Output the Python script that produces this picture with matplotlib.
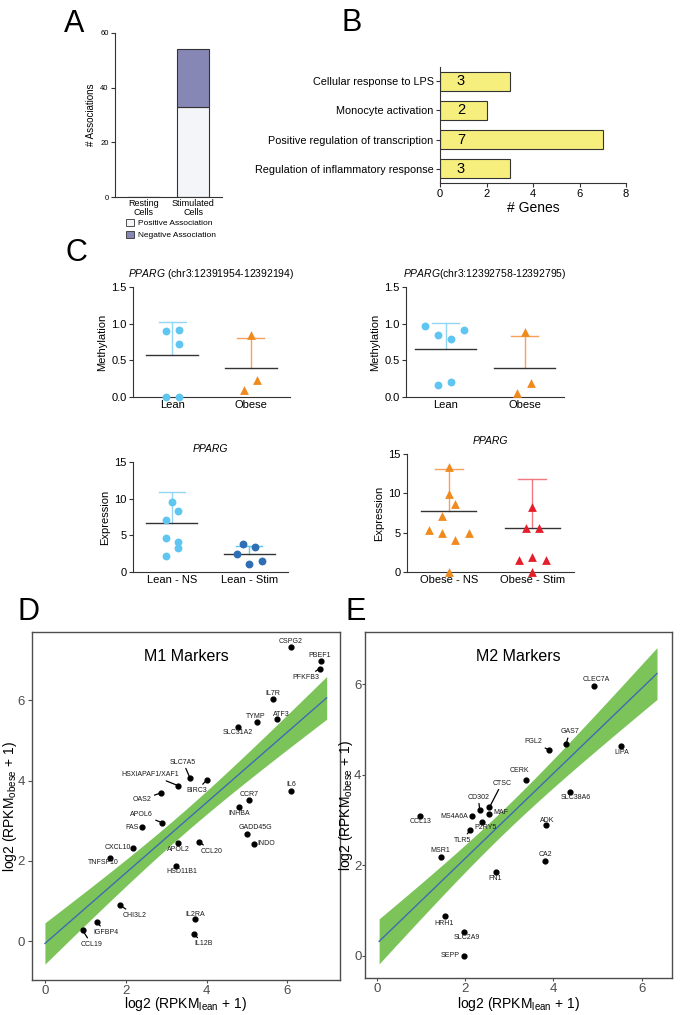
import numpy as np
import matplotlib
matplotlib.use('Agg')
import matplotlib.pyplot as plt
from matplotlib.patches import Patch

plt.rcParams['font.family'] = ['Liberation Sans', 'DejaVu Sans']
plt.rcParams['mathtext.fontset'] = 'custom'
plt.rcParams['mathtext.rm'] = 'Liberation Sans'
plt.rcParams['mathtext.it'] = 'Liberation Sans:italic'

# ---- panel A data
a_groups = ['Resting\nCells', 'Stimulated\nCells']
a_positive = [0, 33]
a_negative = [0, 21]

# ---- panel B data
b_terms = ['Cellular response to LPS', 'Monocyte activation',
           'Positive regulation of transcription', 'Regulation of inflammatory response']
b_genes = [3, 2, 7, 3]

# ---- panel C data (values, group mean, sd shown as upper bar)
c1_groups = ['Lean', 'Obese']
c1_vals = [[0.90, 0.92, 0.72, 0.0, 0.0], [0.85, 0.23, 0.10]]
c1_mean = [0.57, 0.40]
c1_sd = [0.45, 0.40]

c2_groups = ['Lean', 'Obese']
c2_vals = [[0.97, 0.84, 0.79, 0.91, 0.17, 0.21], [0.88, 0.19, 0.05]]
c2_mean = [0.65, 0.39]
c2_sd = [0.36, 0.44]

c3_groups = ['Lean - NS', 'Lean - Stim']
c3_vals = [[9.55, 8.27, 7.05, 4.64, 4.09, 3.27, 2.18], [3.77, 3.41, 2.41, 1.05, 1.45]]
c3_mean = [6.75, 2.45]
c3_sd = [4.15, 1.10]

c4_groups = ['Obese - NS', 'Obese - Stim']
c4_vals = [[13.4, 9.9, 8.65, 7.16, 5.33, 4.9, 4.13, 4.9, 0.0],
           [8.3, 5.54, 5.54, 1.58, 1.92, 1.58, 0.0]]
c4_mean = [7.76, 5.54]
c4_sd = [5.28, 6.22]

# ---- panel D data (M1 markers)
d_genes = ['CSPG2', 'PBEF1', 'PFKFB3', 'IL7R', 'TYMP', 'ATF3', 'SLC31A2', 'SLC7A5',
           'HSXIAPAF1/XAF1', 'BIRC3', 'OAS2', 'IL6', 'CCR7', 'INHBA', 'APOL6', 'FAS',
           'GADD45G', 'INDO', 'APOL2', 'CCL20', 'CXCL10', 'TNFSF10', 'HSD11B1', 'CHI3L2',
           'IL2RA', 'IL12B', 'IGFBP4', 'CCL19']
d_lean = [6.08, 6.82, 6.80, 5.65, 5.24, 5.75, 4.77, 3.59, 3.30, 4.00, 2.87, 6.10, 5.05, 4.81,
          2.89, 2.39, 4.99, 5.17, 3.30, 3.81, 2.18, 1.61, 3.24, 1.85, 3.71, 3.69, 1.28, 0.93]
d_obese = [7.33, 6.97, 6.79, 6.03, 5.46, 5.53, 5.33, 4.06, 3.87, 4.01, 3.69, 3.75, 3.52, 3.34,
           2.95, 2.84, 2.67, 2.42, 2.44, 2.48, 2.33, 2.08, 1.87, 0.90, 0.54, 0.17, 0.48, 0.27]
# linear fit as drawn: intercept, slope, x-range, band half-width (min, centre, curvature)
d_fit = dict(a=-0.06, b=0.878, x0=0.0, x1=6.97, hmin=0.28, xc=3.4, k=0.0161)

# ---- panel E data (M2 markers)
e_genes = ['CLEC7A', 'GAS7', 'FGL2', 'LIPA', 'CERK', 'SLC38A6', 'CTSC', 'CD302', 'MAF',
           'MS4A6A', 'P2RY5', 'CCL13', 'TLR5', 'ADK', 'MSR1', 'CA2', 'FN1', 'HRH1',
           'SLC2A9', 'SEPP']
e_lean = [4.92, 4.29, 3.90, 5.54, 3.39, 4.37, 2.55, 2.33, 2.55, 2.16, 2.38, 0.98, 2.12, 3.84,
          1.46, 3.80, 2.69, 1.55, 1.97, 1.98]
e_obese = [5.97, 4.69, 4.55, 4.65, 3.89, 3.62, 3.28, 3.23, 3.13, 3.09, 2.97, 3.09, 2.78, 2.89,
           2.19, 2.10, 1.86, 0.87, 0.52, 0.00]
e_fit = dict(a=0.273, b=0.94, x0=0.05, x1=6.35, hmin=0.27, xc=2.9, k=0.0215)

# label placement (offset points, connector flag)
d_lab = {'CSPG2': (0, 4, 0), 'PBEF1': (-1, 4, 0), 'PFKFB3': (-10, -6.5, 1), 'IL7R': (0, 4, 0),
         'TYMP': (-1, 4, 0), 'ATF3': (3, 3.5, 0), 'SLC31A2': (0, -4, 0), 'SLC7A5': (-5, 11.5, 1),
         'HSXIAPAF1/XAF1': (-20, 8, 1), 'BIRC3': (-7, -7.5, 1), 'OAS2': (-13.5, -4.5, 1),
         'IL6': (0, 4, 0), 'CCR7': (0, 4, 0), 'INHBA': (0, -4.5, 0), 'APOL6': (-14.5, 6, 1),
         'FAS': (-7, 0, 0), 'GADD45G': (6, 4.3, 0), 'INDO': (9, 0, 0), 'APOL2': (0, -4.3, 0),
         'CCL20': (9, -7, 1), 'CXCL10': (-11, 0, 0), 'TNFSF10': (-5, -3.5, 0),
         'HSD11B1': (4, -4, 0), 'CHI3L2': (11, -7.5, 1), 'IL2RA': (0, 3.6, 0),
         'IL12B': (7, -7, 1), 'IGFBP4': (6.5, -7.5, 1), 'CCL19': (6.5, -10, 1)}
e_lab = {'CLEC7A': (2, 4.5, 0), 'GAS7': (2.6, 8.6, 1), 'FGL2': (-11, 6, 1), 'LIPA': (0.7, -4.8, 0),
         'CERK': (-5, 6.7, 0), 'SLC38A6': (4, -3.6, 0), 'CTSC': (9, 17.5, 1), 'CD302': (-1, 9, 1),
         'MAF': (8, 1.4, 0), 'MS4A6A': (-13, 0, 0), 'P2RY5': (2.4, -4.3, 0), 'CCL13': (0, -4, 0),
         'TLR5': (-6, -7.2, 1), 'ADK': (1, 3.6, 0), 'MSR1': (-1, 4.3, 0), 'CA2': (1, 4.3, 0),
         'FN1': (0, -5, 0), 'HRH1': (-1, -4.8, 0), 'SLC2A9': (2.4, -4, 0), 'SEPP': (-10.5, 0, 0)}

fig = plt.figure(figsize=(6.82, 10.15), dpi=100)


def add_ax(x0, y0, x1, y1):
    W, H = 682.0, 1015.0
    return fig.add_axes([x0 / W, 1 - y1 / H, (x1 - x0) / W, (y1 - y0) / H])


def prism_style(ax, fs):
    for s in ['top', 'right']:
        ax.spines[s].set_visible(False)
    for s in ['left', 'bottom']:
        ax.spines[s].set_color('#333333')
        ax.spines[s].set_linewidth(0.8)
    ax.tick_params(labelsize=fs, length=3, width=0.8, color='#333333', pad=1.5)


# ---------------- A
axA = add_ax(115, 33, 222, 197)
xa = np.arange(len(a_groups))
axA.bar(xa, a_positive, 0.67, color='#f4f5f9', edgecolor='#333333', lw=0.8)
axA.bar(xa, a_negative, 0.67, bottom=a_positive, color='#8787b6', edgecolor='#333333', lw=0.8)
axA.set_xlim(-0.59, 1.59)
axA.set_ylim(0, 60)
axA.set_yticks([0, 20, 40, 60])
axA.set_xticks(xa)
axA.set_xticklabels(a_groups, linespacing=1.0)
axA.set_ylabel('# Associations', fontsize=7, labelpad=3)
prism_style(axA, 5.5)
axA.tick_params(axis='x', length=0, labelsize=6.5)
fig.legend(handles=[Patch(facecolor='#f4f5f9', edgecolor='#333333', lw=0.6, label='Positive Association'),
                    Patch(facecolor='#8787b6', edgecolor='#333333', lw=0.6, label='Negative Association')],
           loc='upper left', bbox_to_anchor=(0.180, 0.788), frameon=False, fontsize=6,
           handlelength=1.0, handleheight=1.0, handletextpad=0.4, labelspacing=0.45, borderaxespad=0)

# ---------------- B
axB = add_ax(440, 67, 626, 183)
yb = np.arange(len(b_terms))
axB.barh(yb, b_genes, 0.65, color='#f6ef7e', edgecolor='#333333', lw=0.8)
for yy, g in zip(yb, b_genes):
    axB.text(0.9, yy, str(g), fontsize=10.5, ha='center', va='center')
axB.set_ylim(3.48, -0.48)
axB.set_xlim(0, 8)
axB.set_xticks([0, 2, 4, 6, 8])
axB.set_yticks(yb)
axB.set_yticklabels(b_terms)
axB.set_xlabel('# Genes', fontsize=10, labelpad=1)
prism_style(axB, 8)
axB.tick_params(axis='y', labelsize=7.8)


# ---------------- C
def dot_panel(ax, groups, vals, jit, means, sds, markers, colors, ecolors, ylim, yticks,
              ylabel, title, mean_hw=0.33, cap_hw=0.17):
    for i in range(len(groups)):
        xs = i + np.array(jit[i])
        ax.scatter(xs, vals[i], s=40 if markers[i] == '^' else 32, marker=markers[i],
                   color=colors[i], lw=0, clip_on=False, zorder=3)
        m, sd = means[i], sds[i]
        ax.plot([i - mean_hw, i + mean_hw], [m, m], color='#333333', lw=1.0, zorder=2)
        ax.plot([i, i], [m, m + sd], color=ecolors[i], lw=1.0, zorder=1)
        ax.plot([i - cap_hw, i + cap_hw], [m + sd, m + sd], color=ecolors[i], lw=1.0, zorder=1)
    ax.set_xlim(-0.5, 1.5)
    ax.set_ylim(*ylim)
    ax.set_yticks(yticks)
    ax.set_xticks(range(len(groups)))
    ax.set_xticklabels(groups)
    ax.set_ylabel(ylabel, fontsize=8, labelpad=3)
    ax.set_title(title, fontsize=7.5, pad=7)
    prism_style(ax, 8)
    ax.tick_params(axis='x', length=0, pad=2)


lb, db = '#5ec6f0', '#2f6db5'
lb_e = '#92d6f3'
orng, orng_e = '#f08a1c', '#f5a35a'
red, red_e = '#e41f2b', '#f07a80'

axC1 = add_ax(133, 287, 290, 397)
dot_panel(axC1, c1_groups, c1_vals, [[-0.08, 0.08, 0.08, -0.08, 0.08], [0, 0.08, -0.09]],
          c1_mean, c1_sd, ['o', '^'], [lb, orng], [lb_e, orng_e], (0, 1.5), [0, 0.5, 1.0, 1.5],
          'Methylation', r'$\it{PPARG}$ (chr3:12391954-12392194)')
axC1.set_yticklabels(['0.0', '0.5', '1.0', '1.5'])

axC2 = add_ax(406, 287, 564, 397)
dot_panel(axC2, c2_groups, c2_vals, [[-0.26, -0.1, 0.07, 0.24, -0.1, 0.07], [0, 0.08, -0.09]],
          c2_mean, c2_sd, ['o', '^'], [lb, orng], [lb_e, orng_e], (0, 1.5), [0, 0.5, 1.0, 1.5],
          'Methylation', r'$\it{PPARG}$(chr3:12392758-12392795)', mean_hw=0.38)
axC2.set_yticklabels(['0.0', '0.5', '1.0', '1.5'])

axC3 = add_ax(133, 462, 288, 572)
dot_panel(axC3, c3_groups, c3_vals,
          [[0, 0.08, -0.08, -0.08, 0.08, 0.08, -0.08], [-0.08, 0.08, -0.16, 0, 0.16]],
          c3_mean, c3_sd, ['o', 'o'], [lb, db], [lb_e, lb], (0, 15), [0, 5, 10, 15],
          'Expression', 'PPARG')
axC3.title.set_fontstyle('italic')

axC4 = add_ax(407, 454, 574, 572)
dot_panel(axC4, c4_groups, c4_vals,
          [[0, 0, 0.08, -0.075, -0.24, -0.075, 0.08, 0.24, 0],
           [0, -0.08, 0.08, -0.16, 0, 0.16, 0]],
          c4_mean, c4_sd, ['^', '^'], [orng, red], [orng_e, red_e], (0, 15), [0, 5, 10, 15],
          'Expression', 'PPARG')
axC4.title.set_fontstyle('italic')


# ---------------- D / E
def marker_panel(ax, genes, xv, yv, labs, fit, xlim, ylim, title, ylab_x, xlab_y, tpad):
    xs = np.linspace(fit['x0'], fit['x1'], 100)
    yf = fit['a'] + fit['b'] * xs
    hw = np.sqrt(fit['hmin'] ** 2 + fit['k'] * (xs - fit['xc']) ** 2)
    ax.fill_between(xs, yf - hw, yf + hw, color='#7cc35a', lw=0, zorder=1)
    ax.plot(xs, yf, color='#3d6db3', lw=1.0, zorder=2)
    ax.scatter(xv, yv, s=12, color='black', zorder=4)
    for g, x, y in zip(genes, xv, yv):
        dx, dy, con = labs[g]
        ap = dict(arrowstyle='-', color='black', lw=0.9, shrinkA=0, shrinkB=1.5) if con else None
        ax.annotate(g, xy=(x, y), xytext=(dx, dy), textcoords='offset points', ha='center',
                    va='center', fontsize=5, color='#1a1a1a', arrowprops=ap, zorder=5)
    ax.set_xlim(*xlim)
    ax.set_ylim(*ylim)
    ax.set_xticks([0, 2, 4, 6])
    ax.set_yticks([0, 2, 4, 6])
    for s in ax.spines.values():
        s.set_color('#4d4d4d')
        s.set_linewidth(1.0)
    ax.tick_params(labelsize=9.5, labelcolor='#4d4d4d', color='#4d4d4d', length=3, pad=2)
    ax.tick_params(axis='x', length=2.5, pad=1)
    ax.tick_params(axis='y', length=tpad[0], pad=tpad[1])
    ax.set_xlabel(r'log2 (RPKM$_\mathregular{lean}$ + 1)', fontsize=10, va='top')
    ax.set_ylabel(r'log2 (RPKM$_\mathregular{obese}$ + 1)', fontsize=10, va='center')
    ax.xaxis.set_label_coords(0.5, xlab_y)
    ax.yaxis.set_label_coords(ylab_x, 0.5)
    ax.text(0.5, 0.93, title, transform=ax.transAxes, ha='center', va='center', fontsize=11.5)


axD = add_ax(32, 632, 340, 980)
marker_panel(axD, d_genes, d_lean, d_obese, d_lab, d_fit,
             (-0.32, 7.30), (-0.97, 7.7), 'M1 Markers', -0.072, -0.044, (3, 2))

axE = add_ax(365, 632, 672, 978)
marker_panel(axE, e_genes, e_lean, e_obese, e_lab, e_fit,
             (-0.27, 6.69), (-0.49, 7.16), 'M2 Markers', -0.063, -0.048, (2, 0.5))

# panel letters
for lab, px, py in [('A', 74, 24), ('B', 352, 23), ('C', 76, 253), ('D', 28, 612), ('E', 356, 612)]:
    fig.text(px / 682, 1 - py / 1015, lab, fontsize=22, ha='center', va='center')

fig.savefig('out.png', dpi=100)
plt.close()
